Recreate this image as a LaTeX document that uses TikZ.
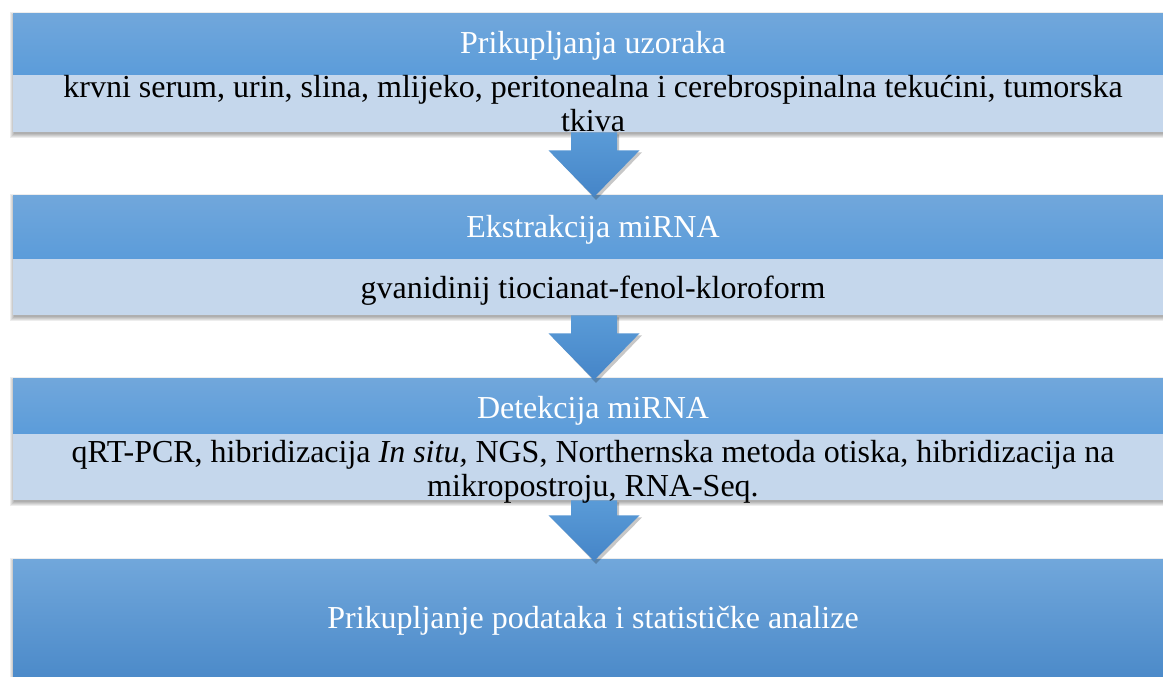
\documentclass[tikz,border=0pt]{standalone}
\usepackage{fontspec}
\setmainfont{Liberation Serif}
\newfontfamily\tnr{Liberation Serif}
\usetikzlibrary{calc}
\definecolor{hdtop}{HTML}{71A7DB}
\definecolor{hdbot}{HTML}{5B9CDA}
\definecolor{bodyc}{HTML}{C5D7EC}
\definecolor{lasttop}{HTML}{71A7DB}
\definecolor{lastmid}{HTML}{5A9CDC}
\definecolor{lastbot}{HTML}{4585C6}
\definecolor{arrtop}{HTML}{5A9BD7}
\definecolor{arrbot}{HTML}{4585C8}
\newcommand\lnstrut{\rule[-6pt]{0pt}{32pt}}
\newcommand\softshadow[4]{%
  \foreach \d in {0,1,2,3,4}{%
    \fill[black,opacity=0.07] ({#1-\d+1},{#2-\d+3}) rectangle ({#3+\d},{#4+\d+2});}}
\newcommand\blockarrow[3]{%
  \path (#1.south -| ac) coordinate (as) (#2.north -| ac) coordinate (ae);
  \fill[black,opacity=0.22] ($(as)+(-21,2)$) -- ($(as)+(25,2)$) -- ($(as)+(25,#3+2)$) -- ($(as)+(48,#3+2)$) -- ($(ae)+(2,5)$) -- ($(as)+(-43,#3+2)$) -- ($(as)+(-21,#3+2)$) -- cycle;
  \shade[top color=arrtop,bottom color=arrbot] ($(as)+(-23,0)$) -- ($(as)+(23,0)$) -- ($(as)+(23,#3)$) -- ($(as)+(45.5,#3)$) -- ($(ae)+(0,2)$) -- ($(as)+(-45.5,#3)$) -- ($(as)+(-23,#3)$) -- cycle;}
\tikzset{
  hdr/.style={anchor=north west, inner sep=0, minimum width=1170pt, minimum height=#1,
    top color=hdtop, bottom color=hdbot, draw=none},
  bodybox/.style={anchor=north west, inner sep=0, minimum width=1170pt, minimum height=#1,
    fill=bodyc, draw=none},
  lastbox/.style={anchor=north west, inner sep=0, minimum width=1170pt, minimum height=#1,
    top color=lasttop, middle color=lastmid, bottom color=lastbot, draw=none},
  htxt/.style={anchor=base, inner sep=0, text=white, font=\tnr\fontsize{32}{32}\selectfont},
  btxt/.style={inner sep=0, text=black, align=center, font=\tnr\fontsize{32}{32}\selectfont},
}
\begin{document}
\begin{tikzpicture}[x=1pt,y=-1pt]
\useasboundingbox (0,0) rectangle (1163,677);
\fill[white] (0,0) rectangle (1163,677);
\coordinate (ac) at (594,0);
% shadows
\softshadow{13}{13}{1183}{132}
\softshadow{13}{195}{1183}{315}
\softshadow{13}{378}{1183}{500}
\softshadow{13}{559}{1183}{700}
% box 1
\node[hdr=62pt] (h1) at (13,13) {};
\node[bodybox=57pt] (b1) at (13,75) {};
% box 2
\node[hdr=64pt] (h2) at (13,195) {};
\node[bodybox=56pt] (b2) at (13,259) {};
% box 3
\node[hdr=56pt] (h3) at (13,378) {};
\node[bodybox=66pt] (b3) at (13,434) {};
% box 4
\node[lastbox=140pt] (h4) at (13,559) {};
% arrows
\blockarrow{b1}{h2}{18}
\blockarrow{b2}{h3}{18}
\blockarrow{b3}{h4}{15}
% texts
\node[htxt] (t1) at (593,54) {Prikupljanja uzoraka};
\node[btxt,anchor=north] (d1) at (593,71) {\lnstrut krvni serum, urin, slina, mlijeko, peritonealna i cerebrospinalna tekućini, tumorska\\\lnstrut tkiva};
\node[htxt] (t2) at (593,237) {Ekstrakcija miRNA};
\node[btxt,anchor=base] (d2) at (593,298) {gvanidinij tiocianat-fenol-kloroform};
\node[htxt] (t3) at (593,418) {Detekcija miRNA};
\node[btxt,anchor=north] (d3) at (593,436) {\lnstrut qRT-PCR, hibridizacija \textit{In situ,} NGS, Northernska metoda otiska, hibridizacija na\\\lnstrut mikropostroju, RNA-Seq.};
\node[htxt] (t4) at (593,628) {Prikupljanje podataka i statističke analize};
\end{tikzpicture}
\end{document}
